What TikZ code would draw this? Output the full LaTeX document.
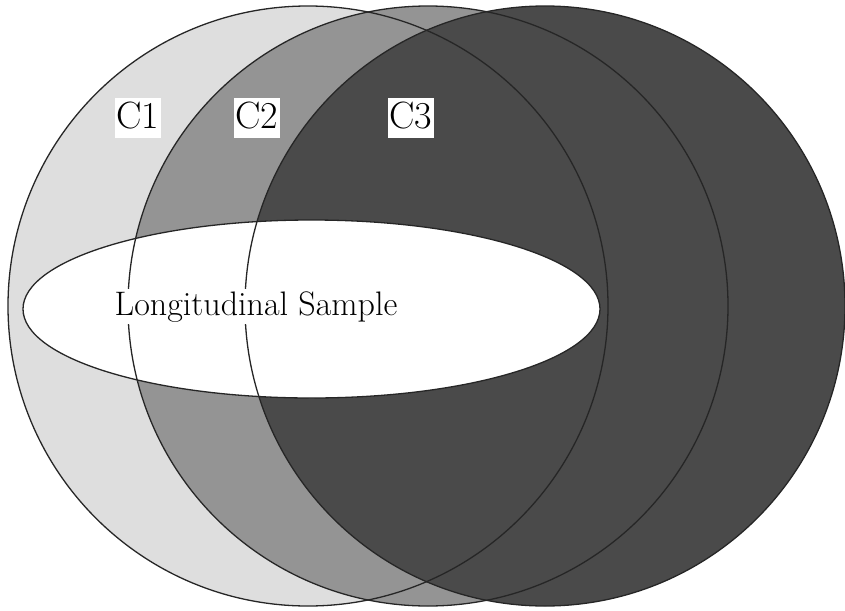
\documentclass[tikz,border=0pt]{standalone}
\usepackage{tikz}
\usetikzlibrary{positioning}
\definecolor{cohortA}{gray}{0.87}
\definecolor{cohortB}{gray}{0.58}
\definecolor{cohortC}{gray}{0.29}

\begin{document}
\begin{tikzpicture}[
  x=1pt, y=-1pt,
  outline/.style={draw=black!85, line width=1.3pt},
  tag/.style={fill=white, inner xsep=2pt, inner ysep=4pt, text height=26pt, text depth=6pt, font=\fontsize{38}{42}\selectfont, anchor=base},
  sample/.style={fill=white, inner xsep=1pt, inner ysep=3pt, text height=23pt, text depth=6pt, font=\fontsize{34}{38}\selectfont, anchor=base}
]
\useasboundingbox (0,0) rectangle (845,610);

% cohorts, filled back to front
\fill[cohortA] (308,306) circle[radius=300];
\fill[cohortB] (428,306) circle[radius=300];
\fill[cohortC] (545,306) circle[radius=300];
\fill[white] (311.5,309) ellipse[x radius=288.5, y radius=89];

% outlines
\draw[outline] (308,306) circle[radius=300];
\draw[outline] (428,306) circle[radius=300];
\draw[outline] (545,306) circle[radius=300];
\draw[outline] (311.5,309) ellipse[x radius=288.5, y radius=89];

% labels
\node[tag] (c1) at (138,128) {C1};
\node[tag] (c2) at (257,128) {C2};
\node[tag] (c3) at (411,128) {C3};
\node[sample] (long) at (256,315) {Longitudinal Sample};
\end{tikzpicture}
\end{document}
